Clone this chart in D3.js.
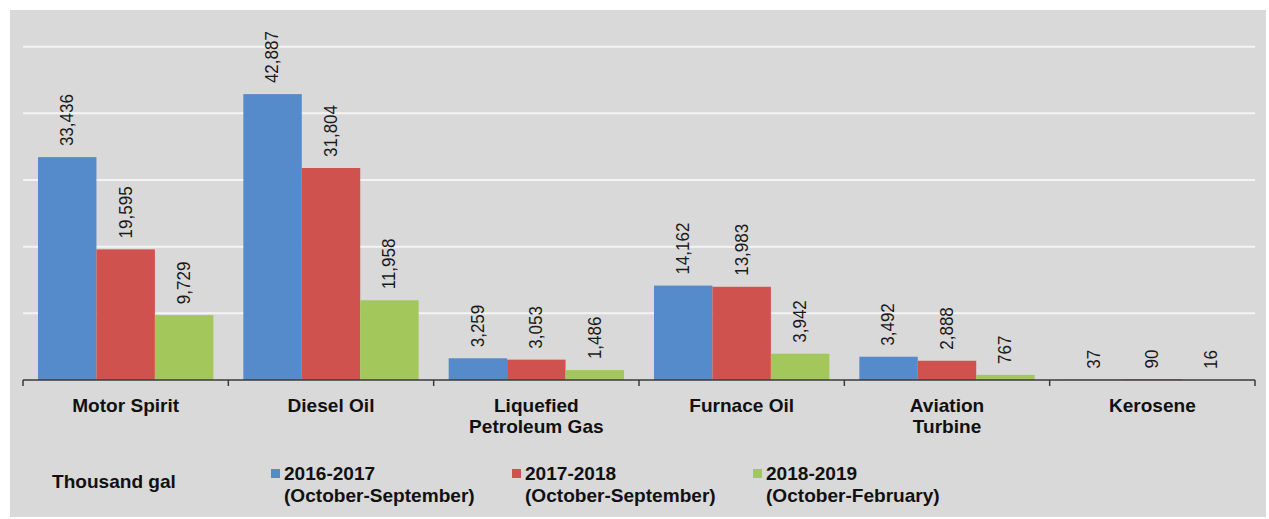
<!DOCTYPE html>
<html>
<head>
<meta charset="utf-8">
<script src="https://cdn.jsdelivr.net/npm/d3@7"></script>
<style>
  html, body { margin: 0; padding: 0; background: #ffffff; }
  svg { display: block; font-family: "Liberation Sans", Arial, sans-serif; }
</style>
</head>
<body>
<svg id="chart" width="1269" height="519"></svg>
<script>
const categories = ["Motor Spirit", "Diesel Oil", "Liquefied\nPetroleum Gas", "Furnace Oil", "Aviation\nTurbine", "Kerosene"];
const seriesNames = ["2016-2017", "2017-2018", "2018-2019"];
const seriesPeriods = ["(October-September)", "(October-September)", "(October-February)"];
const values2016_2017 = [33436, 42887, 3259, 14162, 3492, 37];
const values2017_2018 = [19595, 31804, 3053, 13983, 2888, 90];
const values2018_2019 = [9729, 11958, 1486, 3942, 767, 16];
const yTicks = [0, 10000, 20000, 30000, 40000, 50000];
const unitLabel = "Thousand gal";
const colors = ["#558acb", "#d0524f", "#a3c75b"];

const seriesValues = [values2016_2017, values2017_2018, values2018_2019];
const svg = d3.select("#chart");

// panel background
svg.append("rect").attr("x", 10).attr("y", 10).attr("width", 1256).attr("height", 507).attr("fill", "#d9d9d9");

const plotLeft = 23, plotRight = 1255, plotBottom = 380, plotTop = 46.7;
const x0 = d3.scaleBand().domain(categories).range([plotLeft, plotRight]).padding(0);
const innerPad = 15;
const x1 = d3.scaleBand().domain(d3.range(seriesNames.length)).range([innerPad, x0.bandwidth() - innerPad]).padding(0);
const y = d3.scaleLinear().domain([0, 50000]).range([plotBottom, plotTop]);

// gridlines
svg.append("g").selectAll("line").data(yTicks.filter(d => d > 0)).join("line")
  .attr("x1", plotLeft).attr("x2", plotRight)
  .attr("y1", d => y(d)).attr("y2", d => y(d))
  .attr("stroke", "#f4f4f4").attr("stroke-width", 2);

// bars
const rows = categories.map((c, i) => ({ cat: c, vals: seriesValues.map(s => s[i]) }));
const groups = svg.append("g").selectAll("g").data(rows).join("g")
  .attr("transform", d => `translate(${x0(d.cat)},0)`);
groups.selectAll("rect").data(d => d.vals.map((v, k) => ({ v, k }))).join("rect")
  .attr("x", d => x1(d.k)).attr("width", x1.bandwidth())
  .attr("y", d => y(d.v)).attr("height", d => y(0) - y(d.v))
  .attr("fill", d => colors[d.k]);

// value labels
const fmt = d3.format(",");
groups.selectAll("text").data(d => d.vals.map((v, k) => ({ v, k }))).join("text")
  .attr("transform", d => `translate(${x1(d.k) + x1.bandwidth() / 2 + 1},${y(d.v) - 11}) rotate(-90) scale(1,1.08)`)
  .attr("text-anchor", "start").attr("dominant-baseline", "middle")
  .attr("font-size", 17).attr("fill", "#1a1a1a")
  .text(d => fmt(d.v));

// x axis line and ticks at band boundaries
const axisG = svg.append("g");
axisG.append("line").attr("x1", plotLeft).attr("x2", plotRight).attr("y1", plotBottom).attr("y2", plotBottom)
  .attr("stroke", "#3a3a3a").attr("stroke-width", 1.5);
const boundaries = categories.map(c => x0(c)).concat([x0(categories[categories.length - 1]) + x0.bandwidth()]);
axisG.selectAll("line.tick").data(boundaries).join("line").attr("class", "tick")
  .attr("x1", d => d).attr("x2", d => d).attr("y1", plotBottom).attr("y2", plotBottom + 6)
  .attr("stroke", "#3a3a3a").attr("stroke-width", 1.5);

// category labels
const catG = svg.append("g").selectAll("text").data(categories).join("text")
  .attr("transform", d => `translate(${x0(d) + x0.bandwidth() / 2},412) scale(1.06,1)`)
  .attr("text-anchor", "middle").attr("font-size", 18).attr("font-weight", "bold").attr("fill", "#111");
catG.selectAll("tspan").data(d => d.split("\n")).join("tspan")
  .attr("x", 0).attr("dy", (d, i) => i === 0 ? 0 : 21.5).text(d => d);

// unit label
svg.append("text").attr("transform", "translate(52,488) scale(1.06,1)")
  .attr("font-size", 18).attr("font-weight", "bold").attr("fill", "#111").text(unitLabel);

// legend
const legendX = d3.scaleLinear().domain([0, 1]).range([271, 512]);
const leg = svg.append("g").selectAll("g").data(seriesNames).join("g")
  .attr("transform", (d, i) => `translate(${legendX(i)},0)`);
leg.append("rect").attr("x", 0).attr("y", 469).attr("width", 9).attr("height", 9).attr("fill", (d, i) => colors[i]);
const lt = leg.append("text").attr("transform", "translate(13,480) scale(1.06,1)")
  .attr("font-size", 18).attr("font-weight", "bold").attr("fill", "#111");
lt.append("tspan").attr("x", 0).attr("dy", 0).text(d => d);
lt.append("tspan").attr("x", 0).attr("dy", 21.7).text((d, i) => seriesPeriods[i]);
</script>
</body>
</html>
